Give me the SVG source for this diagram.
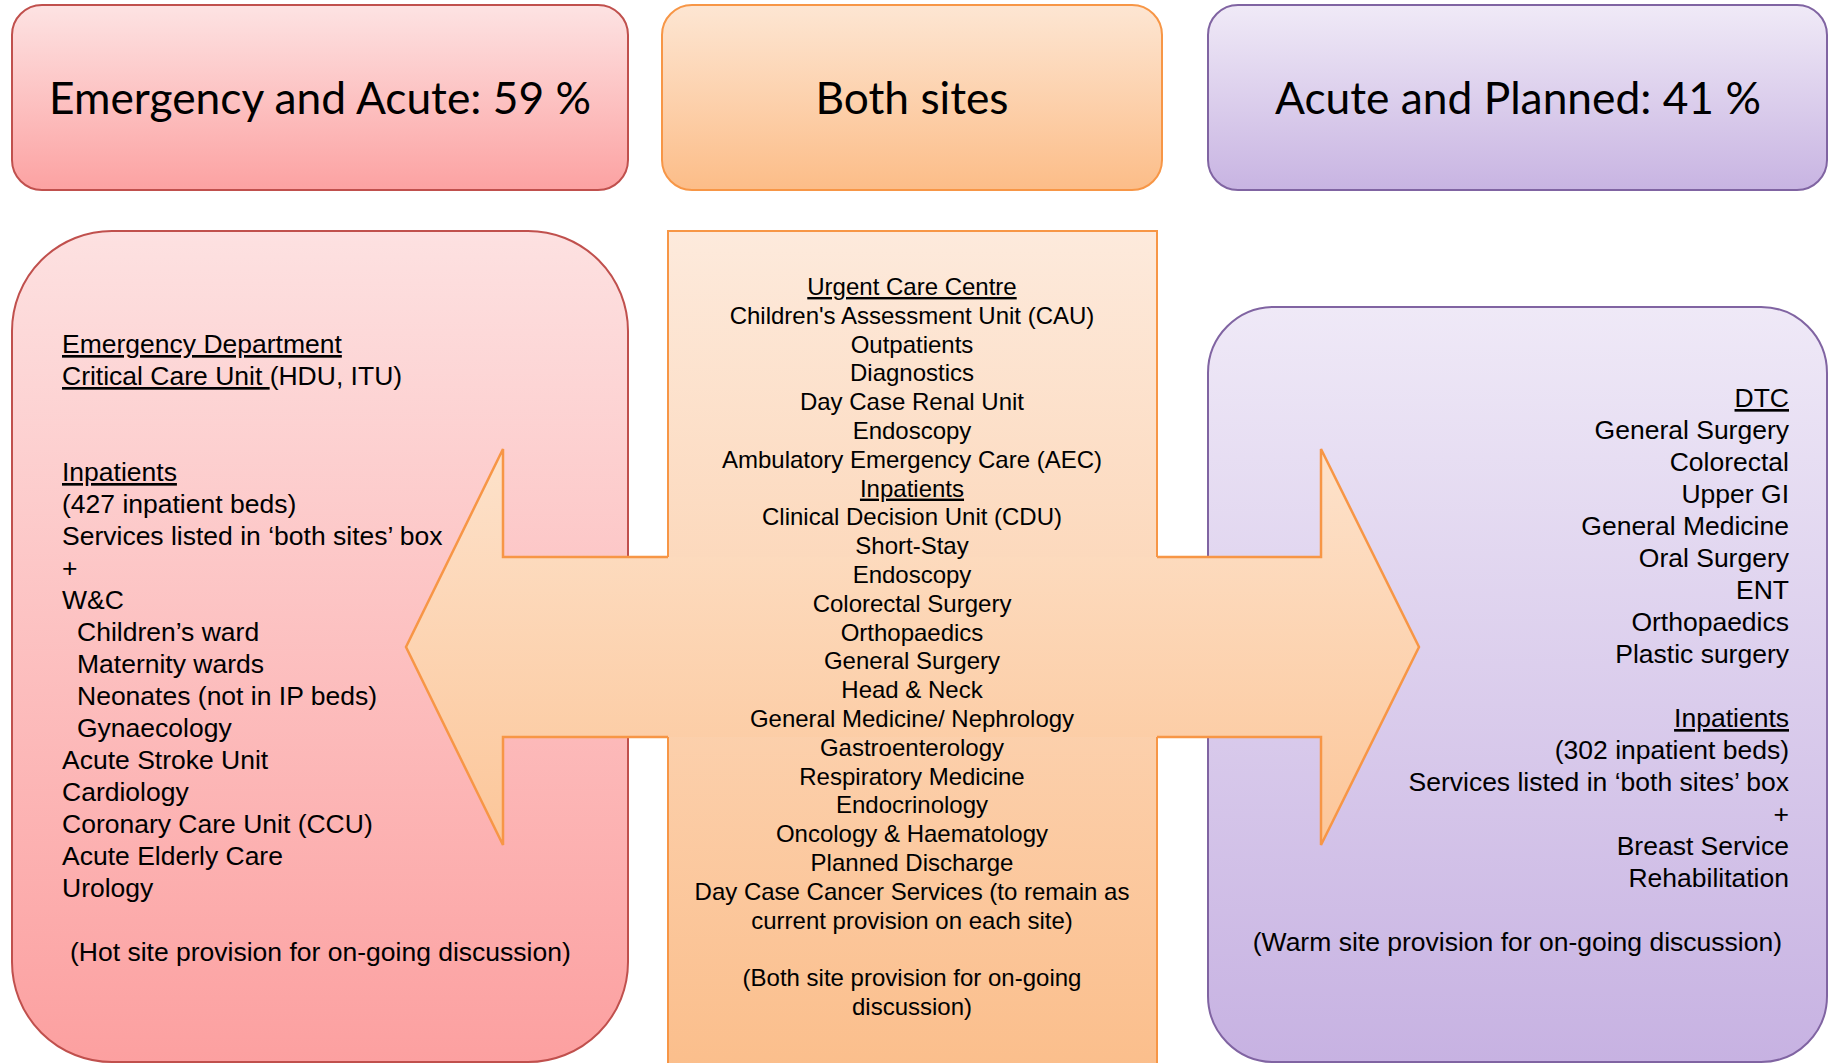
<svg xmlns="http://www.w3.org/2000/svg" width="1830" height="1063" viewBox="0 0 1830 1063">
<defs>
<linearGradient id="gRedTop" x1="0" y1="0" x2="0" y2="1"><stop offset="0" stop-color="#fde3e3"/><stop offset="1" stop-color="#fca2a2"/></linearGradient>
<linearGradient id="gOrgTop" x1="0" y1="0" x2="0" y2="1"><stop offset="0" stop-color="#fde6d3"/><stop offset="1" stop-color="#fcbd88"/></linearGradient>
<linearGradient id="gPurTop" x1="0" y1="0" x2="0" y2="1"><stop offset="0" stop-color="#f0eaf7"/><stop offset="1" stop-color="#c8b4e2"/></linearGradient>
<linearGradient id="gRed" x1="0" y1="0" x2="0" y2="1"><stop offset="0" stop-color="#fde1e1"/><stop offset="1" stop-color="#fca0a0"/></linearGradient>
<linearGradient id="gOrg" x1="0" y1="0" x2="0" y2="1"><stop offset="0" stop-color="#fdeadc"/><stop offset="1" stop-color="#fbbe8b"/></linearGradient>
<linearGradient id="gPur" x1="0" y1="0" x2="0" y2="1"><stop offset="0" stop-color="#efe9f7"/><stop offset="1" stop-color="#c7b2e2"/></linearGradient>
<linearGradient id="gArrow" gradientUnits="userSpaceOnUse" x1="0" y1="449" x2="0" y2="845"><stop offset="0" stop-color="#fde2cb"/><stop offset="1" stop-color="#fcc699"/></linearGradient>
</defs>
<style>
.red{stroke:#c0504d;stroke-width:2}
.org{stroke:#f79646;stroke-width:2}
.pur{stroke:#8064a2;stroke-width:2}
.hdr{font-family:Lato,"Liberation Sans",sans-serif;font-size:44.3px;fill:#000;text-anchor:middle}
.t{font-family:"Liberation Sans",Arial,sans-serif;font-size:26.5px;fill:#000}
.m{font-family:"Liberation Sans",Arial,sans-serif;font-size:24px;fill:#000;text-anchor:middle}
.r{text-anchor:end}
.u{text-decoration:underline}
.arrowline{fill:none;stroke:#f79646;stroke-width:2.5;stroke-linejoin:miter}
</style>

<g id="emergency-header">
<rect x="12" y="5" width="616" height="185" rx="30" ry="30" fill="url(#gRedTop)" class="red"/>
<text class="hdr" x="320" y="114">Emergency and Acute: 59 %</text>
</g>
<g id="both-header">
<rect x="662" y="5" width="500" height="185" rx="30" ry="30" fill="url(#gOrgTop)" class="org"/>
<text class="hdr" x="912" y="114">Both sites</text>
</g>
<g id="planned-header">
<rect x="1208" y="5" width="619" height="185" rx="30" ry="30" fill="url(#gPurTop)" class="pur"/>
<text class="hdr" x="1518" y="114">Acute and Planned: 41 %</text>
</g>

<g id="emergency-box">
<rect x="12" y="231" width="616" height="831" rx="100" ry="100" fill="url(#gRed)" class="red"/>
</g>
<g id="planned-box">
<rect x="1208" y="307" width="619" height="755" rx="66" ry="66" fill="url(#gPur)" class="pur"/>
</g>
<g id="both-box">
<rect x="668" y="231" width="489" height="845" fill="url(#gOrg)" class="org"/>
</g>

<g id="connectors">
<polygon points="406,647 503,449 503,557 1321,557 1321,449 1419,647 1321,845 1321,737 503,737 503,845" fill="url(#gArrow)" stroke="none"/>
<polyline class="arrowline" points="668,557 503,557 503,449 406,647 503,845 503,737 668,737"/>
<polyline class="arrowline" points="1157,557 1321,557 1321,449 1419,647 1321,845 1321,737 1157,737"/>
</g>

<g id="emergency-text">
<text class="t" x="62" y="353"><tspan class="u">Emergency Department</tspan></text>
<text class="t" x="62" y="385" xml:space="preserve"><tspan class="u">Critical Care Unit </tspan>(HDU, ITU)</text>
<text class="t" x="62" y="481"><tspan class="u">Inpatients</tspan></text>
<text class="t" x="62" y="513">(427 inpatient beds)</text>
<text class="t" x="62" y="545">Services listed in ‘both sites’ box</text>
<text class="t" x="62" y="577">+</text>
<text class="t" x="62" y="609">W&amp;C</text>
<text class="t" x="77" y="641">Children’s ward</text>
<text class="t" x="77" y="673">Maternity wards</text>
<text class="t" x="77" y="705">Neonates (not in IP beds)</text>
<text class="t" x="77" y="737">Gynaecology</text>
<text class="t" x="62" y="769">Acute Stroke Unit</text>
<text class="t" x="62" y="801">Cardiology</text>
<text class="t" x="62" y="833">Coronary Care Unit (CCU)</text>
<text class="t" x="62" y="865">Acute Elderly Care</text>
<text class="t" x="62" y="897">Urology</text>
<text class="t" x="70" y="961">(Hot site provision for on-going discussion)</text>
</g>

<g id="both-text">
<text class="m" x="912" y="295"><tspan class="u">Urgent Care Centre</tspan></text>
<text class="m" x="912" y="323.8">Children's Assessment Unit (CAU)</text>
<text class="m" x="912" y="352.6">Outpatients</text>
<text class="m" x="912" y="381.4">Diagnostics</text>
<text class="m" x="912" y="410.2">Day Case Renal Unit</text>
<text class="m" x="912" y="439">Endoscopy</text>
<text class="m" x="912" y="467.8">Ambulatory Emergency Care (AEC)</text>
<text class="m" x="912" y="496.6"><tspan class="u">Inpatients</tspan></text>
<text class="m" x="912" y="525.4">Clinical Decision Unit (CDU)</text>
<text class="m" x="912" y="554.2">Short-Stay</text>
<text class="m" x="912" y="583">Endoscopy</text>
<text class="m" x="912" y="611.8">Colorectal Surgery</text>
<text class="m" x="912" y="640.6">Orthopaedics</text>
<text class="m" x="912" y="669.4">General Surgery</text>
<text class="m" x="912" y="698.2">Head &amp; Neck</text>
<text class="m" x="912" y="727">General Medicine/ Nephrology</text>
<text class="m" x="912" y="755.8">Gastroenterology</text>
<text class="m" x="912" y="784.6">Respiratory Medicine</text>
<text class="m" x="912" y="813.4">Endocrinology</text>
<text class="m" x="912" y="842.2">Oncology &amp; Haematology</text>
<text class="m" x="912" y="871">Planned Discharge</text>
<text class="m" x="912" y="899.8">Day Case Cancer Services (to remain as</text>
<text class="m" x="912" y="928.6">current provision on each site)</text>
<text class="m" x="912" y="986.2">(Both site provision for on-going</text>
<text class="m" x="912" y="1015">discussion)</text>
</g>

<g id="planned-text">
<text class="t r" x="1789" y="407"><tspan class="u">DTC</tspan></text>
<text class="t r" x="1789" y="439">General Surgery</text>
<text class="t r" x="1789" y="471">Colorectal</text>
<text class="t r" x="1789" y="503">Upper GI</text>
<text class="t r" x="1789" y="535">General Medicine</text>
<text class="t r" x="1789" y="567">Oral Surgery</text>
<text class="t r" x="1789" y="599">ENT</text>
<text class="t r" x="1789" y="631">Orthopaedics</text>
<text class="t r" x="1789" y="663">Plastic surgery</text>
<text class="t r" x="1789" y="727"><tspan class="u">Inpatients</tspan></text>
<text class="t r" x="1789" y="759">(302 inpatient beds)</text>
<text class="t r" x="1789" y="791">Services listed in ‘both sites’ box</text>
<text class="t r" x="1789" y="823">+</text>
<text class="t r" x="1789" y="855">Breast Service</text>
<text class="t r" x="1789" y="887">Rehabilitation</text>
<text class="t r" x="1782" y="951">(Warm site provision for on-going discussion)</text>
</g>
</svg>
